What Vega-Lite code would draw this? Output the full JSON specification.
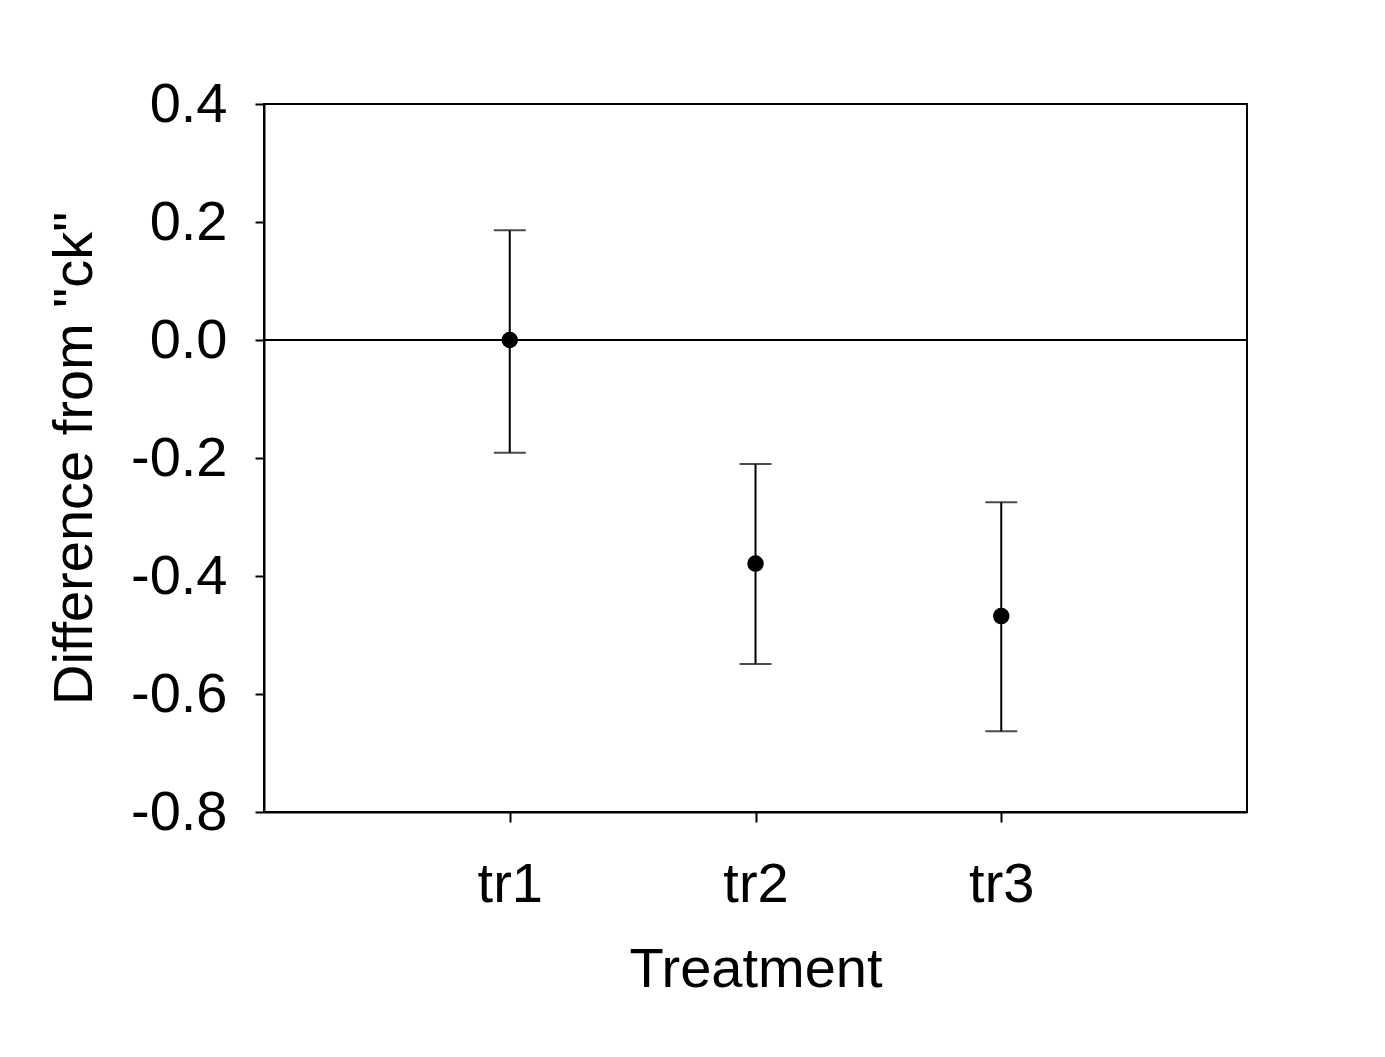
{
  "$schema": "https://vega.github.io/schema/vega-lite/v6.json",
  "width": 983,
  "height": 708,
  "autosize": "none",
  "padding": {"left": 264, "top": 104, "right": 138, "bottom": 245},
  "background": "white",
  "config": {
    "view": {"stroke": "black", "strokeWidth": 2},
    "font": "Liberation Sans",
    "axis": {
      "grid": false,
      "domainColor": "black",
      "domainWidth": 2,
      "tickColor": "black",
      "tickWidth": 2,
      "labelColor": "black",
      "titleColor": "black",
      "titleFontWeight": "normal",
      "labelFont": "Liberation Sans",
      "titleFont": "Liberation Sans"
    }
  },
  "data": {
    "values": [
      {"treatment": "tr1", "diff": 0.0, "lower": -0.191, "upper": 0.186},
      {"treatment": "tr2", "diff": -0.379, "lower": -0.549, "upper": -0.210},
      {"treatment": "tr3", "diff": -0.468, "lower": -0.663, "upper": -0.275}
    ]
  },
  "layer": [
    {
      "mark": {"type": "rule", "color": "black", "strokeWidth": 2},
      "encoding": {
        "y": {"datum": 0, "type": "quantitative", "title": "Difference from \"ck\""}
      }
    },
    {
      "mark": {"type": "rule", "color": "black", "strokeWidth": 2},
      "encoding": {
        "x": {
          "field": "treatment", "type": "nominal",
          "scale": {"type": "point", "padding": 1, "domain": ["tr1", "tr2", "tr3"]},
          "axis": {"labelAngle": 0, "tickSize": 10, "labelPadding": 35, "labelFontSize": 56, "titleFontSize": 56, "titlePadding": 30},
          "title": "Treatment"
        },
        "y": {
          "field": "lower", "type": "quantitative",
          "scale": {"domain": [-0.8, 0.4], "nice": false, "zero": false},
          "axis": {
            "values": [-0.8, -0.6, -0.4, -0.2, 0.0, 0.2, 0.4],
            "labelExpr": "datum.value < -0.0001 ? '-' + format(-datum.value, '.1f') : format(datum.value, '.1f')",
            "tickSize": 9, "labelPadding": 28, "labelFontSize": 56, "titleFontSize": 56, "titlePadding": 27
          },
          "title": "Difference from \"ck\""
        },
        "y2": {"field": "upper"}
      }
    },
    {
      "mark": {"type": "tick", "color": "black", "thickness": 2, "size": 32},
      "encoding": {
        "x": {"field": "treatment", "type": "nominal", "title": "Treatment"},
        "y": {"field": "upper", "type": "quantitative", "title": "Difference from \"ck\""}
      }
    },
    {
      "mark": {"type": "tick", "color": "black", "thickness": 2, "size": 32},
      "encoding": {
        "x": {"field": "treatment", "type": "nominal", "title": "Treatment"},
        "y": {"field": "lower", "type": "quantitative", "title": "Difference from \"ck\""}
      }
    },
    {
      "mark": {"type": "point", "filled": true, "color": "black", "opacity": 1, "size": 272},
      "encoding": {
        "x": {"field": "treatment", "type": "nominal", "title": "Treatment"},
        "y": {"field": "diff", "type": "quantitative", "title": "Difference from \"ck\""}
      }
    }
  ]
}
